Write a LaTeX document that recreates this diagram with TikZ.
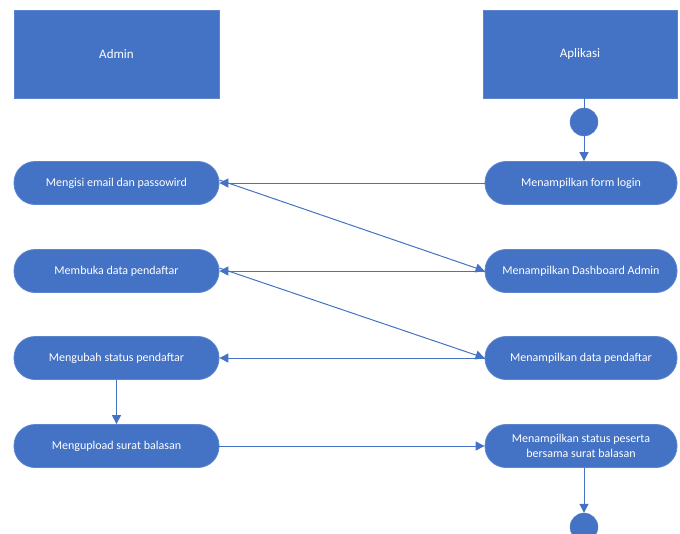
\documentclass[tikz,border=0pt]{standalone}
\usepackage{fontspec}
\setmainfont{Carlito}
\usetikzlibrary{arrows.meta}
\definecolor{ublue}{HTML}{4472C4}
\definecolor{ubord}{HTML}{5B86CF}
\begin{document}
\begin{tikzpicture}[x=1pt,y=-1pt,
  lane/.style={draw=ubord, fill=ublue, line width=0.8pt, minimum width=205pt, minimum height=88pt, inner sep=0pt, text=white, font=\fontsize{13}{15}\selectfont},
  act/.style={draw=ubord, fill=ublue, line width=0.8pt, rounded corners=21pt, minimum height=43pt, inner sep=0pt, text=white, align=center, font=\fontsize{12}{15}\selectfont},
  actl/.style={act, minimum width=205pt},
  actr/.style={act, minimum width=192pt},
  dot/.style={circle, fill=ublue, draw=ubord, minimum size=28pt, inner sep=0pt},
  flow/.style={draw=ublue, line width=1pt, -{Triangle[length=9pt,width=9pt]}},
  plain/.style={draw=ublue, line width=1pt}]
\useasboundingbox (0,0) rectangle (680,533);
\node[lane] (admin) at (116.5,54) {Admin};
\node[lane, minimum width=194pt] (app) at (580,54) {Aplikasi};
\node[dot] (start) at (584,122) {};
\node[actl] (a1) at (116.5,183) {Mengisi email dan passowird};
\node[actl] (a2) at (116.5,271) {Membuka data pendaftar};
\node[actl] (a3) at (116.5,358) {Mengubah status pendaftar};
\node[actl] (a4) at (116.5,446) {Mengupload surat balasan};
\node[actr] (b1) at (581,183) {Menampilkan form login};
\node[actr] (b2) at (581,271) {Menampilkan Dashboard Admin};
\node[actr] (b3) at (581,358) {Menampilkan data pendaftar};
\node[actr] (b4) at (581,446) {Menampilkan status peserta\\bersama surat balasan};
\node[dot] (end) at (584,527) {};
\draw[plain] (app.south -| start) -- (start.north);
\draw[flow] (start.south) -- (start.south |- b1.north);
\draw[flow] (b1.west) -- (a1.east);
\draw[flow] ([yshift=3pt]a1.east) -- (b2.west);
\draw[flow] (b2.west) -- (a2.east);
\draw[flow] ([yshift=3pt]a2.east) -- (b3.west);
\draw[flow] (b3.west) -- (a3.east);
\draw[flow] (a3.south) -- (a4.north);
\draw[flow] (a4.east) -- (b4.west);
\draw[flow] (b4.south -| end) -- (end.north);
\end{tikzpicture}
\end{document}
